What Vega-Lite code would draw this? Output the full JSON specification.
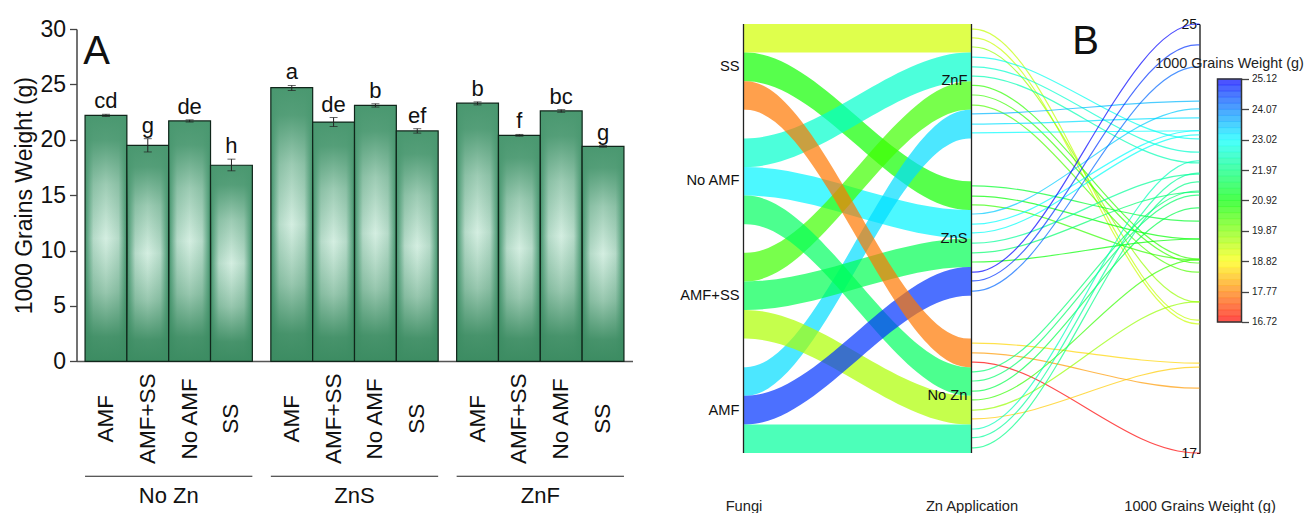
{"$schema":"https://vega.github.io/schema/vega-lite/v6.json","background":"white","padding":{"left":13.5,"top":17,"right":0,"bottom":0},"autosize":{"type":"pad"},"bounds":"flush","spacing":111,"config":{"view":{"stroke":null},"font":"Liberation Sans","axis":{"grid":false}},"datasets":{"bars":[{"zn":"No Zn","fungi":"AMF","w":22.2,"lo":22.1,"hi":22.3,"sig":"cd"},{"zn":"No Zn","fungi":"AMF+SS","w":19.5,"lo":18.9,"hi":20.1,"sig":"g"},{"zn":"No Zn","fungi":"No AMF","w":21.7,"lo":21.6,"hi":21.8,"sig":"de"},{"zn":"No Zn","fungi":"SS","w":17.7,"lo":17.2,"hi":18.25,"sig":"h"},{"zn":"ZnS","fungi":"AMF","w":24.7,"lo":24.45,"hi":24.9,"sig":"a"},{"zn":"ZnS","fungi":"AMF+SS","w":21.6,"lo":21.2,"hi":22.0,"sig":"de"},{"zn":"ZnS","fungi":"No AMF","w":23.1,"lo":22.95,"hi":23.25,"sig":"b"},{"zn":"ZnS","fungi":"SS","w":20.8,"lo":20.6,"hi":21.0,"sig":"ef"},{"zn":"ZnF","fungi":"AMF","w":23.3,"lo":23.15,"hi":23.42,"sig":"b"},{"zn":"ZnF","fungi":"AMF+SS","w":20.4,"lo":20.32,"hi":20.48,"sig":"f"},{"zn":"ZnF","fungi":"No AMF","w":22.6,"lo":22.48,"hi":22.72,"sig":"bc"},{"zn":"ZnF","fungi":"SS","w":19.4,"lo":19.33,"hi":19.47,"sig":"g"}],"ribbons":[{"flow":"01 SS-ZnF","w":19.2,"x":[0,0.01,0.99,1],"top":[25.12,25.12,25.12,25.12],"bot":[24.56,24.56,24.56,24.56]},{"flow":"02 SS-ZnS","w":20.8,"x":[0,0.01,0.99,1],"top":[24.56,24.56,22.04,22.04],"bot":[24.0,24.0,21.48,21.48]},{"flow":"03 NoAMF-ZnF","w":22.6,"x":[0,0.01,0.99,1],"top":[22.88,22.88,24.56,24.56],"bot":[22.32,22.32,24.0,24.0]},{"flow":"04 NoAMF-ZnS","w":23.1,"x":[0,0.01,0.99,1],"top":[22.32,22.32,21.48,21.48],"bot":[21.76,21.76,20.92,20.92]},{"flow":"05 AMF+SS-ZnF","w":20.4,"x":[0,0.01,0.99,1],"top":[20.64,20.64,24.0,24.0],"bot":[20.08,20.08,23.44,23.44]},{"flow":"06 AMF-ZnF","w":23.3,"x":[0,0.01,0.99,1],"top":[18.4,18.4,23.44,23.44],"bot":[17.84,17.84,22.88,22.88]},{"flow":"07 NoAMF-NoZn","w":21.7,"x":[0,0.01,0.99,1],"top":[21.76,21.76,18.4,18.4],"bot":[21.2,21.2,17.84,17.84]},{"flow":"08 AMF+SS-ZnS","w":21.6,"x":[0,0.01,0.99,1],"top":[20.08,20.08,20.92,20.92],"bot":[19.52,19.52,20.36,20.36]},{"flow":"09 AMF+SS-NoZn","w":19.5,"x":[0,0.01,0.99,1],"top":[19.52,19.52,17.84,17.84],"bot":[18.96,18.96,17.28,17.28]},{"flow":"10 AMF-ZnS","w":24.7,"x":[0,0.01,0.99,1],"top":[17.84,17.84,20.36,20.36],"bot":[17.28,17.28,19.8,19.8]},{"flow":"11 AMF-NoZn","w":22.2,"x":[0,0.01,0.99,1],"top":[17.28,17.28,17.28,17.28],"bot":[16.72,16.72,16.72,16.72]},{"flow":"12 SS-NoZn","w":17.7,"x":[0,0.01,0.99,1],"top":[24.0,24.0,18.96,18.96],"bot":[23.44,23.44,18.4,18.4]}],"lines":[{"line":"SS-ZnF-1","w":19.32,"x":[1,1.01,1.99,2],"y":[25.02,25.02,19.32,19.32]},{"line":"SS-ZnF-2","w":19.25,"x":[1,1.01,1.99,2],"y":[24.85,24.85,19.25,19.25]},{"line":"SS-ZnF-3","w":19.68,"x":[1,1.01,1.99,2],"y":[24.67,24.67,19.68,19.68]},{"line":"NoAMF-ZnF-1","w":22.87,"x":[1,1.01,1.99,2],"y":[24.47,24.47,22.87,22.87]},{"line":"NoAMF-ZnF-2","w":22.61,"x":[1,1.01,1.99,2],"y":[24.28,24.28,22.61,22.61]},{"line":"NoAMF-ZnF-3","w":22.4,"x":[1,1.01,1.99,2],"y":[24.1,24.1,22.4,22.4]},{"line":"AMFSS-ZnF-1","w":20.52,"x":[1,1.01,1.99,2],"y":[23.92,23.92,20.52,20.52]},{"line":"AMFSS-ZnF-2","w":20.44,"x":[1,1.01,1.99,2],"y":[23.73,23.73,20.44,20.44]},{"line":"AMFSS-ZnF-3","w":20.26,"x":[1,1.01,1.99,2],"y":[23.53,23.53,20.26,20.26]},{"line":"AMF-ZnF-1","w":23.61,"x":[1,1.01,1.99,2],"y":[23.36,23.36,23.61,23.61]},{"line":"AMF-ZnF-2","w":23.28,"x":[1,1.01,1.99,2],"y":[23.16,23.16,23.28,23.28]},{"line":"AMF-ZnF-3","w":23.03,"x":[1,1.01,1.99,2],"y":[22.99,22.99,23.03,23.03]},{"line":"SS-ZnS-1","w":21.26,"x":[1,1.01,1.99,2],"y":[21.95,21.95,21.26,21.26]},{"line":"SS-ZnS-2","w":20.91,"x":[1,1.01,1.99,2],"y":[21.75,21.75,20.91,20.91]},{"line":"SS-ZnS-3","w":20.5,"x":[1,1.01,1.99,2],"y":[21.58,21.58,20.5,20.5]},{"line":"NoAMF-ZnS-1","w":23.46,"x":[1,1.01,1.99,2],"y":[21.4,21.4,23.46,23.46]},{"line":"NoAMF-ZnS-2","w":23.03,"x":[1,1.01,1.99,2],"y":[21.2,21.2,23.03,23.03]},{"line":"NoAMF-ZnS-3","w":22.95,"x":[1,1.01,1.99,2],"y":[21.03,21.03,22.95,22.95]},{"line":"AMFSS-ZnS-1","w":22.18,"x":[1,1.01,1.99,2],"y":[20.83,20.83,22.18,22.18]},{"line":"AMFSS-ZnS-2","w":21.83,"x":[1,1.01,1.99,2],"y":[20.64,20.64,21.83,21.83]},{"line":"AMFSS-ZnS-3","w":20.91,"x":[1,1.01,1.99,2],"y":[20.46,20.46,20.91,20.91]},{"line":"AMF-ZnS-1","w":25.12,"x":[1,1.01,1.99,2],"y":[20.26,20.26,25.12,25.12]},{"line":"AMF-ZnS-2","w":24.71,"x":[1,1.01,1.99,2],"y":[20.09,20.09,24.71,24.71]},{"line":"AMF-ZnS-3","w":24.28,"x":[1,1.01,1.99,2],"y":[19.89,19.89,24.28,24.28]},{"line":"SS-NoZn-1","w":18.48,"x":[1,1.01,1.99,2],"y":[18.87,18.87,18.48,18.48]},{"line":"SS-NoZn-2","w":17.99,"x":[1,1.01,1.99,2],"y":[18.68,18.68,17.99,17.99]},{"line":"SS-NoZn-3","w":16.72,"x":[1,1.01,1.99,2],"y":[18.5,18.5,16.72,16.72]},{"line":"NoAMF-NoZn-1","w":21.85,"x":[1,1.01,1.99,2],"y":[18.31,18.31,21.85,21.85]},{"line":"NoAMF-NoZn-2","w":21.77,"x":[1,1.01,1.99,2],"y":[18.13,18.13,21.77,21.77]},{"line":"NoAMF-NoZn-3","w":21.52,"x":[1,1.01,1.99,2],"y":[17.93,17.93,21.52,21.52]},{"line":"AMFSS-NoZn-1","w":20.5,"x":[1,1.01,1.99,2],"y":[17.76,17.76,20.5,20.5]},{"line":"AMFSS-NoZn-2","w":19.68,"x":[1,1.01,1.99,2],"y":[17.56,17.56,19.68,19.68]},{"line":"AMFSS-NoZn-3","w":18.4,"x":[1,1.01,1.99,2],"y":[17.39,17.39,18.4,18.4]},{"line":"AMF-NoZn-1","w":22.44,"x":[1,1.01,1.99,2],"y":[17.19,17.19,22.44,22.44]},{"line":"AMF-NoZn-2","w":22.2,"x":[1,1.01,1.99,2],"y":[17.02,17.02,22.2,22.2]},{"line":"AMF-NoZn-3","w":22.03,"x":[1,1.01,1.99,2],"y":[16.82,16.82,22.03,22.03]}],"bins":[{"lo":16.72,"hi":16.93,"v":16.83},{"lo":16.93,"hi":17.14,"v":17.04},{"lo":17.14,"hi":17.35,"v":17.25},{"lo":17.35,"hi":17.56,"v":17.46},{"lo":17.56,"hi":17.77,"v":17.67},{"lo":17.77,"hi":17.98,"v":17.88},{"lo":17.98,"hi":18.19,"v":18.09},{"lo":18.19,"hi":18.4,"v":18.3},{"lo":18.4,"hi":18.61,"v":18.51},{"lo":18.61,"hi":18.82,"v":18.72},{"lo":18.82,"hi":19.03,"v":18.93},{"lo":19.03,"hi":19.24,"v":19.14},{"lo":19.24,"hi":19.45,"v":19.35},{"lo":19.45,"hi":19.66,"v":19.56},{"lo":19.66,"hi":19.87,"v":19.77},{"lo":19.87,"hi":20.08,"v":19.98},{"lo":20.08,"hi":20.29,"v":20.19},{"lo":20.29,"hi":20.5,"v":20.4},{"lo":20.5,"hi":20.71,"v":20.61},{"lo":20.71,"hi":20.92,"v":20.82},{"lo":20.92,"hi":21.13,"v":21.03},{"lo":21.13,"hi":21.34,"v":21.24},{"lo":21.34,"hi":21.55,"v":21.45},{"lo":21.55,"hi":21.76,"v":21.66},{"lo":21.76,"hi":21.97,"v":21.87},{"lo":21.97,"hi":22.18,"v":22.08},{"lo":22.18,"hi":22.39,"v":22.29},{"lo":22.39,"hi":22.6,"v":22.5},{"lo":22.6,"hi":22.81,"v":22.71},{"lo":22.81,"hi":23.02,"v":22.92},{"lo":23.02,"hi":23.23,"v":23.13},{"lo":23.23,"hi":23.44,"v":23.34},{"lo":23.44,"hi":23.65,"v":23.55},{"lo":23.65,"hi":23.86,"v":23.76},{"lo":23.86,"hi":24.07,"v":23.97},{"lo":24.07,"hi":24.28,"v":24.18},{"lo":24.28,"hi":24.49,"v":24.39},{"lo":24.49,"hi":24.7,"v":24.6},{"lo":24.7,"hi":24.91,"v":24.81},{"lo":24.91,"hi":25.12,"v":25.02}]},"hconcat":[{"width":556,"height":337,"data":{"name":"bars"},"encoding":{"x":{"field":"zn","type":"nominal","sort":["No Zn","ZnS","ZnF"],"scale":{"paddingInner":0.0995,"paddingOuter":0.046},"axis":{"title":null,"labelAngle":0,"labelFontSize":22,"labelColor":"#111","labelPadding":124,"ticks":false,"domainColor":"#555","domainWidth":1.5}},"y":{"type":"quantitative","scale":{"domain":[0,30],"nice":false,"range":[337.3,5]}},"xOffset":{"field":"fungi","type":"nominal","sort":["AMF","AMF+SS","No AMF","SS"],"scale":{"paddingInner":0,"paddingOuter":0}}},"layer":[{"mark":{"type":"bar","color":{"gradient":"linear","x1":0,"x2":1,"y1":0,"y2":0,"stops":[{"offset":0,"color":"#3f8f66"},{"offset":0.05,"color":"#5fa684"},{"offset":0.2,"color":"#b5dac8"},{"offset":0.5,"color":"#d4eee1"},{"offset":0.8,"color":"#b5dac8"},{"offset":0.95,"color":"#5fa684"},{"offset":1,"color":"#3f8f66"}]}},"encoding":{"y":{"field":"w","type":"quantitative","scale":{"domain":[0,30],"nice":false,"range":[337.3,5]},"axis":{"title":"1000 Grains Weight (g)","titleFontSize":23,"titleFontWeight":"normal","titleColor":"#111","titlePadding":3,"labelFontSize":23,"labelColor":"#111","labelPadding":4,"values":[0,2.5,5,7.5,10,12.5,15,17.5,20,22.5,25,27.5,30],"labelExpr":"datum.value % 5 === 0 ? datum.label : ''","labelOverlap":false,"tickColor":"#444","tickWidth":1.3,"tickSize":{"condition":{"test":"datum.value % 5 === 0","value":7},"value":3.5},"domainColor":"#444","domainWidth":1.5}}}},{"mark":{"type":"bar","stroke":"#10261b","strokeWidth":1.2,"color":{"gradient":"linear","x1":0,"x2":0,"y1":0,"y2":1,"stops":[{"offset":0,"color":"rgba(74,152,112,1)"},{"offset":0.1,"color":"rgba(74,152,112,0.92)"},{"offset":0.28,"color":"rgba(74,152,112,0.4)"},{"offset":0.5,"color":"rgba(74,152,112,0)"},{"offset":0.72,"color":"rgba(60,140,98,0.4)"},{"offset":0.9,"color":"rgba(60,140,98,0.92)"},{"offset":1,"color":"rgba(60,140,98,1)"}]}},"encoding":{"y":{"field":"w","type":"quantitative"}}},{"mark":{"type":"rule","color":"#222","strokeWidth":1},"encoding":{"y":{"field":"lo","type":"quantitative"},"y2":{"field":"hi"}}},{"mark":{"type":"tick","color":"#222","size":8,"thickness":1},"encoding":{"y":{"field":"lo","type":"quantitative"}}},{"mark":{"type":"tick","color":"#222","size":8,"thickness":1},"encoding":{"y":{"field":"hi","type":"quantitative"}}},{"mark":{"type":"text","fontSize":22,"baseline":"bottom","dy":-1,"color":"#111"},"encoding":{"y":{"field":"hi","type":"quantitative"},"text":{"field":"sig"}}},{"mark":{"type":"text","fontSize":22.5,"angle":270,"align":"center","baseline":"middle","color":"#111"},"encoding":{"y":{"datum":-5.19},"text":{"field":"fungi"}}},{"data":{"values":[{"zn":"No Zn"},{"zn":"ZnS"},{"zn":"ZnF"}]},"mark":{"type":"rect","color":"#222"},"encoding":{"xOffset":null,"y":{"datum":-10.33},"y2":{"datum":-10.43}}},{"data":{"values":[{"zn":"No Zn","panel":"A"}]},"mark":{"type":"text","fontSize":40,"dx":-72,"color":"#111"},"encoding":{"xOffset":null,"y":{"datum":27.9},"text":{"field":"panel"}}}]},{"hconcat":[{"width":456,"height":429,"encoding":{"x":{"type":"quantitative","scale":{"domain":[0,2],"nice":false}},"y":{"type":"quantitative","scale":{"domain":[16.72,25.12],"nice":false,"zero":false}}},"layer":[{"data":{"name":"ribbons"},"transform":[{"flatten":["x","top","bot"]}],"mark":{"type":"area","interpolate":"monotone","orient":"vertical","opacity":0.7},"encoding":{"x":{"field":"x","type":"quantitative","scale":{"domain":[0,2],"nice":false},"axis":{"title":null,"values":[0,1,2],"labelExpr":"datum.value === 0 ? 'Fungi' : datum.value === 1 ? 'Zn Application' : '1000 Grains Weight (g)'","labelFontSize":14.7,"labelColor":"#222","labelPadding":45,"labelFlush":false,"labelOverlap":false,"ticks":false,"domain":false}},"y":{"field":"top","type":"quantitative","scale":{"domain":[16.72,25.12],"nice":false,"zero":false},"axis":{"title":null,"orient":"left","offset":-456,"values":[16.72,25.12],"format":".0f","labelFontSize":14,"labelColor":"#111","labelPadding":0,"tickSize":3,"tickColor":"#111","domainColor":"#111","domainWidth":1.3}},"y2":{"field":"bot"},"detail":{"field":"flow"},"color":{"field":"w","type":"quantitative","legend":null,"scale":{"domain":[16.72,18.82,20.92,23.02,25.12],"range":["#ff0000","#ffff00","#00ff00","#00ffff","#0000ff"],"interpolate":"rgb"}}}},{"data":{"name":"lines"},"transform":[{"flatten":["x","y"]}],"mark":{"type":"line","interpolate":"monotone","opacity":0.7,"strokeWidth":1.2},"encoding":{"x":{"field":"x","type":"quantitative"},"y":{"field":"y","type":"quantitative"},"detail":{"field":"line"},"color":{"field":"w","type":"quantitative","legend":null,"scale":{"domain":[16.72,18.82,20.92,23.02,25.12],"range":["#ff0000","#ffff00","#00ff00","#00ffff","#0000ff"],"interpolate":"rgb"}}}},{"data":{"values":[{"x":0,"lo":16.72,"hi":25.12},{"x":1,"lo":16.72,"hi":25.12}]},"mark":{"type":"rule","color":"#222","strokeWidth":1.3},"encoding":{"x":{"field":"x","type":"quantitative"},"y":{"field":"lo","type":"quantitative"},"y2":{"field":"hi"}}},{"data":{"values":[{"x":0,"y":24.27,"t":"SS"},{"x":0,"y":22.05,"t":"No AMF"},{"x":0,"y":19.79,"t":"AMF+SS"},{"x":0,"y":17.54,"t":"AMF"},{"x":1,"y":24.0,"t":"ZnF"},{"x":1,"y":20.91,"t":"ZnS"},{"x":1,"y":17.84,"t":"No Zn"}]},"mark":{"type":"text","fontSize":14.7,"align":"right","dx":-4,"color":"#111"},"encoding":{"x":{"field":"x","type":"quantitative"},"y":{"field":"y","type":"quantitative"},"text":{"field":"t"}}},{"data":{"values":[{"x":1.5,"y":24.77,"t":"B"}]},"mark":{"type":"text","fontSize":40,"color":"#111"},"encoding":{"x":{"field":"x","type":"quantitative"},"y":{"field":"y","type":"quantitative"},"text":{"field":"t"}}}]},{"width":24,"height":429,"encoding":{"y":{"type":"quantitative","scale":{"domain":[12.19,27.02],"nice":false,"zero":false}}},"layer":[{"data":{"name":"bins"},"mark":{"type":"rect","opacity":0.7,"strokeWidth":0.5},"encoding":{"y":{"field":"lo","type":"quantitative","scale":{"domain":[12.19,27.02],"nice":false,"zero":false},"axis":{"title":null,"orient":"right","values":[16.72,17.77,18.82,19.87,20.92,21.97,23.02,24.07,25.12],"format":".2f","labelFontSize":10,"labelColor":"#222","labelPadding":3,"tickSize":7,"tickColor":"#444","tickWidth":1.3,"domain":false,"labelOverlap":false}},"y2":{"field":"hi"},"color":{"field":"v","type":"quantitative","legend":null,"scale":{"domain":[16.72,18.82,20.92,23.02,25.12],"range":["#ff0000","#ffff00","#00ff00","#00ffff","#0000ff"],"interpolate":"rgb"}},"stroke":{"field":"v","type":"quantitative","legend":null,"scale":{"domain":[16.72,18.82,20.92,23.02,25.12],"range":["#ff0000","#ffff00","#00ff00","#00ffff","#0000ff"],"interpolate":"rgb"}}}},{"data":{"values":[{"lo":16.72,"hi":25.12}]},"mark":{"type":"rect","fill":null,"stroke":"#333","strokeWidth":1.5},"encoding":{"y":{"field":"lo","type":"quantitative"},"y2":{"field":"hi"}}},{"data":{"values":[{"y":25.65,"t":"1000 Grains Weight (g)"}]},"mark":{"type":"text","fontSize":14.4,"color":"#222"},"encoding":{"y":{"field":"y","type":"quantitative"},"text":{"field":"t"}}}]}],"spacing":18,"bounds":"flush"}]}
